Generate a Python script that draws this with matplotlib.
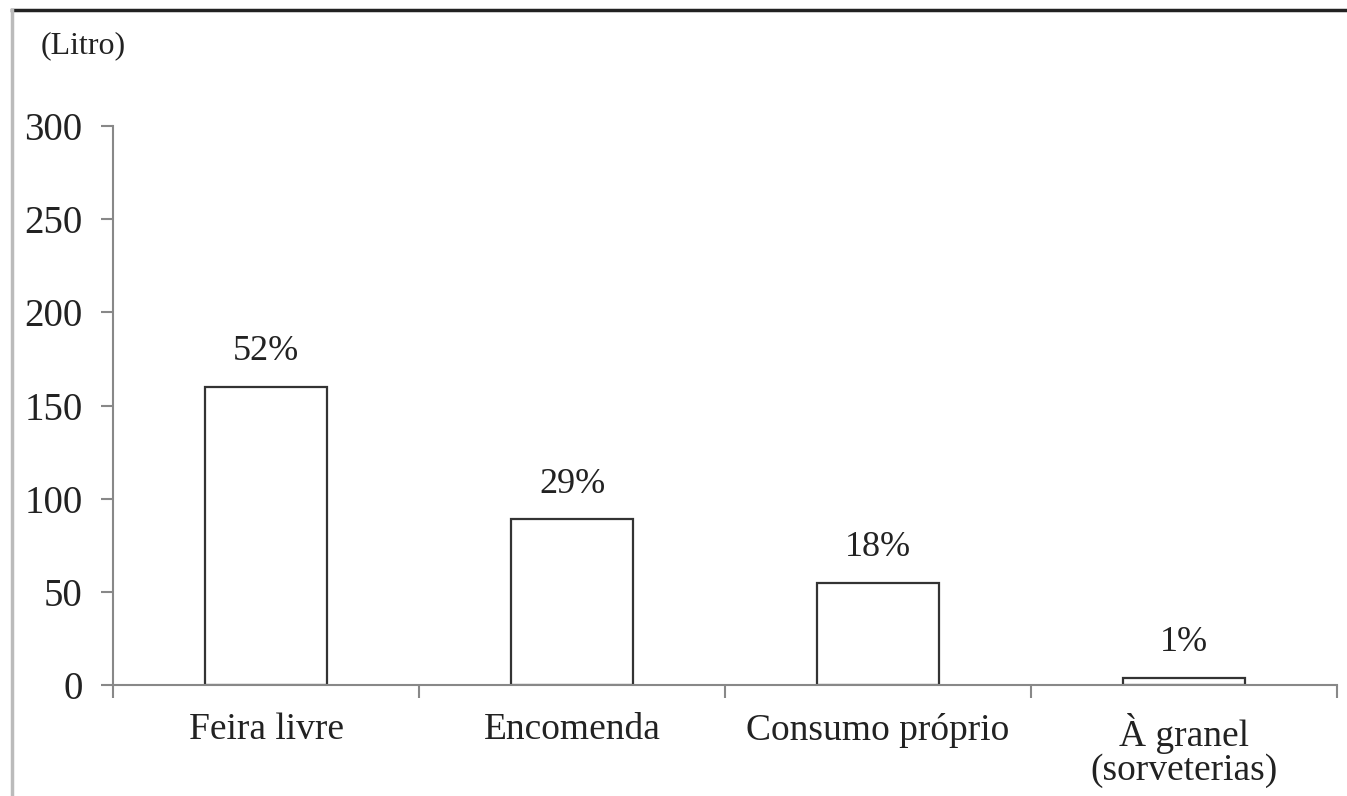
import numpy as np
from matplotlib import pyplot as plt
from matplotlib.lines import Line2D

categories = ["Feira livre", "Encomenda", "Consumo próprio", "À granel\n(sorveterias)"]
values = [160, 89, 55, 4]
shares = ["52%", "29%", "18%", "1%"]
yticks = [0, 50, 100, 150, 200, 250, 300]

plt.rcParams['font.family'] = ['Liberation Serif', 'DejaVu Serif']

fig = plt.figure(figsize=(13.47, 7.96), dpi=100)
ax = fig.add_axes([0.0839, 0.1394, 0.9087, 0.7023])

x = np.arange(len(categories))
ax.bar(x, values, width=0.4, color="white", edgecolor="#333333", linewidth=1.6)
for xi, v, s in zip(x, values, shares):
    ax.text(xi, v + 10, s, ha="center", va="bottom", fontsize=26, color="#222222")

ax.set_xlim(-0.5, len(categories) - 0.5)
ax.set_ylim(0, 300)
ax.set_yticks(yticks)
ax.set_yticklabels([str(t) for t in yticks], fontsize=28, color="#222222")

# category ticks sit at the boundaries, labels in the middle
ax.set_xticks(np.arange(len(categories) + 1) - 0.5)
ax.set_xticklabels([])
ax.set_xticks(x, minor=True)
ax.set_xticklabels(categories, minor=True, fontsize=27, color="#222222", linespacing=1.0)
ax.tick_params(axis="x", which="minor", length=0, pad=20)
ax.tick_params(axis="x", which="major", length=9, color="#888888", width=1.5)
ax.tick_params(axis="y", length=9, color="#888888", width=1.5, pad=13)

for side in ["top", "right"]:
    ax.spines[side].set_visible(False)
ax.spines["left"].set_color("#888888")
ax.spines["bottom"].set_color("#888888")
ax.spines["left"].set_linewidth(1.5)
ax.spines["bottom"].set_linewidth(1.5)

fig.text(0.03, 0.943, "(Litro)", fontsize=23, color="#222222", va="center")

# frame lines around the scanned chart
fig.add_artist(Line2D([0.009, 1.0], [0.987, 0.987], transform=fig.transFigure,
                      color="#222222", linewidth=2.5))
fig.add_artist(Line2D([0.009, 0.009], [0.0, 0.987], transform=fig.transFigure,
                      color="#bbbbbb", linewidth=2.5))

fig.savefig("out.png", dpi=100)
